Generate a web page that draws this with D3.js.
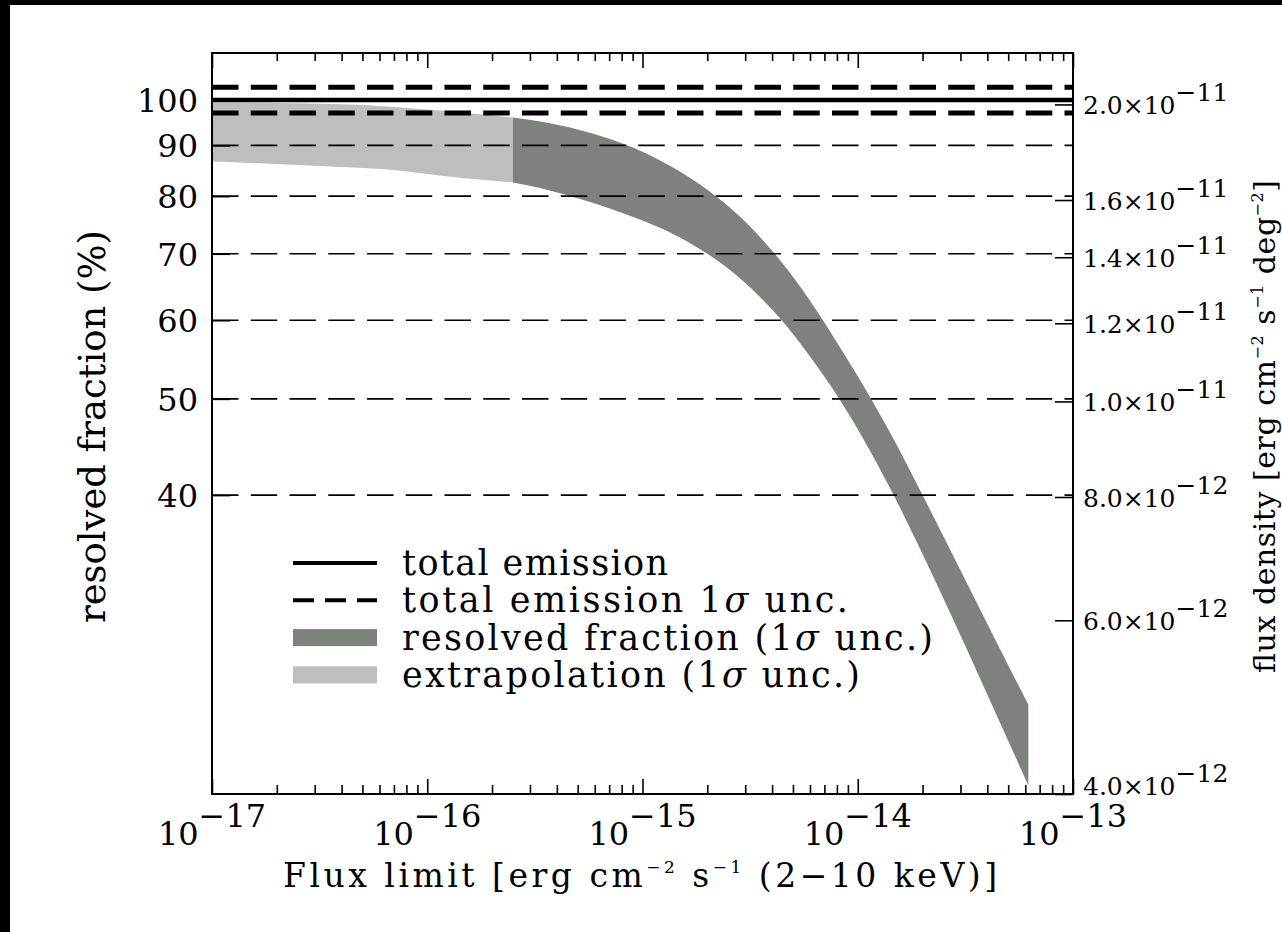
<!DOCTYPE html>
<html><head><meta charset="utf-8">
<script src="https://cdn.jsdelivr.net/npm/d3@7"></script>
<style>
body{margin:0;background:#fff}
svg{display:block}
text{font-family:"DejaVu Serif",serif;fill:#000}
</style>
</head><body>
<svg id="c" width="1282" height="932"></svg>
<script>
// ---- data ----
const fluxLimits = [1e-17,2e-17,4e-17,7e-17,1e-16,1.5e-16,2.5e-16,3.3e-16,5e-16,7e-16,1e-15,1.4e-15,2e-15,2.8e-15,4e-15,5.5e-15,7.5e-15,1e-14,1.4e-14,2e-14,3e-14,4.5e-14,6.2e-14];
const upperPct   = [99.4,99.3,99.0,98.4,97.8,97.1,96.0,95.2,93.4,91.4,88.7,85.4,81.2,76.5,70.5,64.5,58.3,52.7,46.4,40.0,33.6,28.2,24.6];
const lowerPct   = [86.7,86.2,85.6,85.0,84.2,83.4,82.6,81.6,79.6,77.8,75.6,73.2,70.0,66.3,61.5,56.6,51.5,46.6,40.8,34.9,28.9,23.8,20.4];
const extrapolationEnd = 2.5e-16;
const totalPct = 100;
const totalUncPct = [97, 103];
const gridPct = [40,50,60,70,80,90];
const leftTicks = [40,50,60,70,80,90,100];
const rightTicks = [4e-12,6e-12,8e-12,1e-11,1.2e-11,1.4e-11,1.6e-11,2e-11];
const xMajorTicks = [1e-17,1e-16,1e-15,1e-14,1e-13];
const legendLabels = ["total emission","total emission 1σ unc.","resolved fraction (1σ unc.)","extrapolation (1σ unc.)"];
const legendWidths = [266,446,531,458];
const xDomain = [1e-17,1e-13];
const yDomain = [20,111.5];
const rightDomain = [4.0e-12,2.255e-11];

// ---- layout ----
const svg = d3.select("#c");
const L=212, R=1073, T=53, B=794;
const dark = "#7d827c", light = "#bebebe";
const dash = "26.5 12.25";

svg.append("rect").attr("x",0).attr("y",0).attr("width",1282).attr("height",5).attr("fill","#000");
svg.append("rect").attr("x",0).attr("y",0).attr("width",10).attr("height",932).attr("fill","#000");

const x = d3.scaleLog().domain(xDomain).range([L,R]);
const y = d3.scaleLog().domain(yDomain).range([B,T]);
const yR = d3.scaleLog().domain(rightDomain).range([B,T]);

const band = fluxLimits.map((f,i)=>({f, hi:upperPct[i], lo:lowerPct[i]}));
const area = d3.area().x(d=>x(d.f)).y0(d=>y(d.lo)).y1(d=>y(d.hi)).curve(d3.curveMonotoneX);

svg.append("path").datum(band.filter(d=>d.f<=extrapolationEnd)).attr("d",area).attr("fill",light);
svg.append("path").datum(band.filter(d=>d.f>=extrapolationEnd)).attr("d",area).attr("fill",dark);

// grid lines
svg.selectAll(".grid").data(gridPct).enter().append("line")
  .attr("x1",L).attr("x2",R).attr("y1",d=>y(d)).attr("y2",d=>y(d))
  .attr("stroke","#000").attr("stroke-width",1.6).attr("stroke-dasharray",dash);

// total emission
svg.append("line").attr("x1",L).attr("x2",R).attr("y1",y(totalPct)).attr("y2",y(totalPct))
  .attr("stroke","#000").attr("stroke-width",4.5);
svg.selectAll(".unc").data(totalUncPct).enter().append("line")
  .attr("x1",L).attr("x2",R).attr("y1",d=>y(d)).attr("y2",d=>y(d))
  .attr("stroke","#000").attr("stroke-width",5).attr("stroke-dasharray",dash);

// axes (ticks)
const allX = x.ticks();
const minorX = allX.filter(v=>!xMajorTicks.some(m=>Math.abs(m-v)/m<1e-6));
function styleAxis(g){ g.select(".domain").remove(); g.selectAll(".tick line").attr("stroke","#000").attr("stroke-width",1.6); g.selectAll(".tick text").remove(); }
svg.append("g").attr("transform",`translate(0,${B})`).call(d3.axisBottom(x).tickValues(minorX).tickSizeInner(-9).tickSizeOuter(0)).call(styleAxis);
svg.append("g").attr("transform",`translate(0,${B})`).call(d3.axisBottom(x).tickValues(xMajorTicks).tickSizeInner(-15).tickSizeOuter(0)).call(styleAxis);
svg.append("g").attr("transform",`translate(0,${T})`).call(d3.axisTop(x).tickValues(minorX).tickSizeInner(-8).tickSizeOuter(0)).call(styleAxis);
svg.append("g").attr("transform",`translate(0,${T})`).call(d3.axisTop(x).tickValues(xMajorTicks).tickSizeInner(-15).tickSizeOuter(0)).call(styleAxis);
svg.append("g").attr("transform",`translate(${L},0)`).call(d3.axisLeft(y).tickValues(leftTicks).tickSizeInner(-18).tickSizeOuter(0)).call(styleAxis);
svg.append("g").attr("transform",`translate(${R},0)`).call(d3.axisRight(yR).tickValues(rightTicks).tickSizeInner(-18).tickSizeOuter(0)).call(styleAxis);

// frame
svg.append("rect").attr("x",L).attr("y",T).attr("width",R-L).attr("height",B-T)
  .attr("fill","none").attr("stroke","#000").attr("stroke-width",2);

// tick labels
svg.selectAll(".yl").data(leftTicks).enter().append("text")
  .attr("x",198).attr("y",d=>y(d)+12).attr("text-anchor","end").attr("font-size",32).text(d=>d);

xMajorTicks.forEach(v=>{
  const e = Math.round(Math.log10(v));
  const t = svg.append("text").attr("x",x(v)).attr("y",845).attr("text-anchor","middle").attr("font-size",32);
  t.append("tspan").text("10");
  t.append("tspan").attr("dy",-18).text("\u2212"+Math.abs(e));
});

rightTicks.forEach(v=>{
  const e = Math.floor(Math.log10(v)+1e-9);
  const mant = (v/Math.pow(10,e)).toFixed(1);
  const t = svg.append("text").attr("x",1083).attr("y",Math.min(yR(v)+10, B+1)).attr("font-size",25);
  t.append("tspan").text(mant+"\u00d710");
  t.append("tspan").attr("dy",-13).text("\u2212"+Math.abs(e));
});

// axis titles
const xl = svg.append("text").attr("x",640).attr("y",887).attr("text-anchor","middle").attr("font-size",33)
  .attr("textLength",714).attr("lengthAdjust","spacing");
xl.append("tspan").text("Flux limit [erg cm");
xl.append("tspan").attr("dy",-14).attr("font-size",17).text("\u22122");
xl.append("tspan").attr("dy",14).text(" s");
xl.append("tspan").attr("dy",-14).attr("font-size",17).text("\u22121");
xl.append("tspan").attr("dy",14).text(" (2\u221210 keV)]");

svg.append("text").attr("transform","translate(105,426.5) rotate(-90)").attr("text-anchor","middle")
  .attr("font-size",37).attr("textLength",393).attr("lengthAdjust","spacing").text("resolved fraction (%)");

const rl = svg.append("text").attr("transform","translate(1275,426.5) rotate(-90)").attr("text-anchor","middle")
  .attr("font-size",30).attr("textLength",493).attr("lengthAdjust","spacing");
rl.append("tspan").text("flux density [erg cm");
rl.append("tspan").attr("dy",-12).attr("font-size",16).text("\u22122");
rl.append("tspan").attr("dy",12).text(" s");
rl.append("tspan").attr("dy",-12).attr("font-size",16).text("\u22121");
rl.append("tspan").attr("dy",12).text(" deg");
rl.append("tspan").attr("dy",-12).attr("font-size",16).text("\u22122");
rl.append("tspan").attr("dy",12).text("]");

// legend
const lg = svg.append("g");
legendLabels.forEach((lab,i)=>{
  const base = 575 + 37.3*i, cy = base-12;
  if(i===0) lg.append("line").attr("x1",293).attr("x2",377).attr("y1",cy).attr("y2",cy).attr("stroke","#000").attr("stroke-width",4);
  if(i===1) lg.append("line").attr("x1",293).attr("x2",377).attr("y1",cy).attr("y2",cy).attr("stroke","#000").attr("stroke-width",4).attr("stroke-dasharray","21 11");
  if(i===2) lg.append("rect").attr("x",293).attr("y",cy-8.5).attr("width",84).attr("height",17).attr("fill",dark);
  if(i===3) lg.append("rect").attr("x",293).attr("y",cy-8.5).attr("width",84).attr("height",17).attr("fill",light);
  const t = lg.append("text").attr("x",402).attr("y",base).attr("font-size",35)
    .attr("textLength",legendWidths[i]).attr("lengthAdjust","spacing");
  const parts = lab.split("σ");
  parts.forEach((p,j)=>{
    if(j>0) t.append("tspan").attr("font-style","italic").text("σ");
    t.append("tspan").text(p);
  });
});
</script>
</body></html>
